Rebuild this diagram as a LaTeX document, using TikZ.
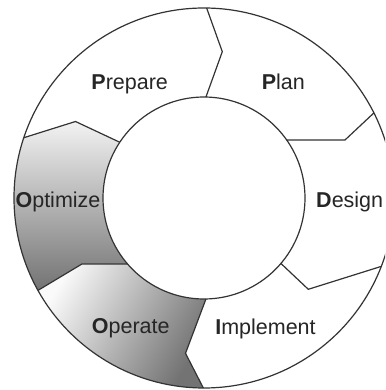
\documentclass[tikz,border=0pt]{standalone}
\usepackage{fontspec}
\setmainfont{Liberation Sans}
\begin{document}
\begin{tikzpicture}[x=1pt,y=1pt,
  ring/.style={draw=black!80, line width=1.2pt, line join=round},
  lbl/.style={font=\fontsize{21.5}{25}\selectfont, text=black!85, inner sep=0pt, anchor=base},
]
\useasboundingbox (-204,-192) rectangle (181,198);
\clip (-204,-192) rectangle (181,198);
\fill[white] (-204,-192) rectangle (181,198);
% boundary points
\coordinate (ppo) at (89.2:190);  \coordinate (ppm) at (18.3,146.3);  \coordinate (ppi) at (88.9:101);
\coordinate (pdo) at (26.6:190);  \coordinate (pdm) at (141,58);      \coordinate (pdi) at (35.05:101);
\coordinate (dio) at (-21.1:190); \coordinate (dim) at (104.3,-91.3); \coordinate (dii) at (-40.4:101);
\coordinate (ioo) at (-90.2:190); \coordinate (iom) at (-18.5,-155.3);\coordinate (ioi) at (-88.9:101);
\coordinate (ooo) at (-150.9:190);\coordinate (oom) at (-122,-66);    \coordinate (ooi) at (-139.2:101);
\coordinate (opo) at (161.5:190); \coordinate (opm) at (-128.5,76.5); \coordinate (opi) at (146.5:101);
% Optimize
\shade[top color=black!5, bottom color=black!55]
  (opo) arc[start angle=161.5, end angle=209.1, radius=190]
  -- (oom) -- (ooi) arc[start angle=220.8, end angle=146.5, radius=101]
  -- (opm) -- cycle;
% Operate
\shade[top color=black!2, bottom color=black!55, shading angle=60]
  (ooo) arc[start angle=209.1, end angle=269.8, radius=190]
  -- (iom) -- (ioi) arc[start angle=271.1, end angle=220.8, radius=101]
  -- (oom) -- cycle;
% rings
\draw[ring] (0,0) circle[radius=190];
\draw[ring, fill=white] (0,0) circle[radius=101];
% boundaries
\draw[ring] (ppo) -- (ppm) -- (ppi);
\draw[ring] (pdo) -- (pdm) -- (pdi);
\draw[ring] (dio) -- (dim) -- (dii);
\draw[ring] (ioo) -- (iom) -- (ioi);
\draw[ring] (ooo) -- (oom) -- (ooi);
\draw[ring] (opo) -- (opm) -- (opi);
% labels
\node[lbl] (prepare)   at (-74.3,108)  {\textbf{P}repare};
\node[lbl] (plan)      at (79.3,108)   {\textbf{P}lan};
\node[lbl] (design)    at (145.7,-9.3) {\textbf{D}esign};
\node[lbl] (optimize)  at (-146,-9.3)  {\textbf{O}ptimize};
\node[lbl] (operate)   at (-73.2,-135.3) {\textbf{O}perate};
\node[lbl] (implement) at (61.5,-136)  {\textbf{I}mplement};
\end{tikzpicture}
\end{document}
